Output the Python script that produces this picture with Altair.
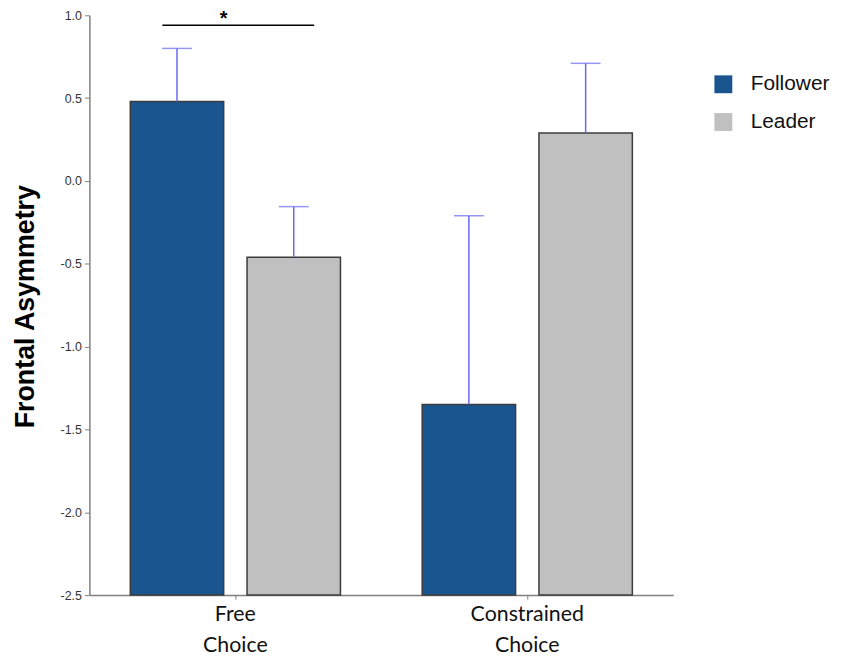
import altair as alt
import pandas as pd

# ---- data ----
cond_order = ["Free Choice", "Constrained Choice"]
role_order = ["Follower", "Leader"]
conditions = ["Free Choice", "Free Choice", "Constrained Choice", "Constrained Choice"]
roles = ["Follower", "Leader", "Follower", "Leader"]
means = [0.48, -0.46, -1.35, 0.29]
upper = [0.80, -0.155, -0.21, 0.71]

# significance annotation (x in band units: 0..2 across the two conditions)
sig_x = [0.25]
sig_x2 = [0.77]
sig_y = [0.94]
star_x = [0.46]
star_y = [0.975]

BAR_COLORS = ["#1a5590", "#c0c0c0"]
EB_COLOR = "#6a6af0"
YTITLE = "Frontal Asymmetry"

df = pd.DataFrame({"condition": conditions, "role": roles, "mean": means, "upper": upper})
sig_df = pd.DataFrame({"x": sig_x, "x2": sig_x2, "y": sig_y})
star_df = pd.DataFrame({"x": star_x, "y": star_y})

yscale = alt.Scale(domain=[-2.5, 1.0], nice=False, zero=False)

x_axis = alt.Axis(
    title=None,
    labelAngle=0,
    labelExpr="split(datum.label, ' ')",
    labelFont="Lato",
    labelFontSize=21.5,
    labelColor="#111111",
    labelLineHeight=31,
    labelPadding=5,
    tickSize=4,
    tickColor="#808080",
    domainColor="#808080",
    domainWidth=1.5,
)
x_enc = alt.X(
    "condition:N",
    sort=cond_order,
    scale=alt.Scale(paddingInner=0, paddingOuter=0),
    axis=x_axis,
    title=None,
)
xo_enc = alt.XOffset("role:N", sort=role_order, scale=alt.Scale(paddingInner=0.2, paddingOuter=0.35))

y_axis = alt.Axis(
    values=[1.0, 0.5, 0.0, -0.5, -1.0, -1.5, -2.0, -2.5],
    labelExpr="datum.value < 0 ? '-' + format(-datum.value, '.1f') : format(datum.value, '.1f')",
    labelFont="Liberation Sans",
    labelFontSize=12.5,
    labelColor="#333333",
    labelPadding=3,
    tickSize=5,
    tickColor="#808080",
    domainColor="#808080",
    domainWidth=1.5,
    titleFont="Liberation Sans",
    titleFontSize=27,
    titleFontWeight="bold",
    titleColor="black",
    titleX=-64,
    titleY=293,
    titleAngle=-90,
    titleAlign="center",
    titleBaseline="middle",
)
y_enc = alt.Y("mean:Q", scale=yscale, title=YTITLE, axis=y_axis)

bars = alt.Chart(df).mark_bar(stroke="#3c3c3c", strokeWidth=1.5).encode(
    x=x_enc,
    xOffset=xo_enc,
    y=y_enc,
    y2=alt.datum(-2.5),
    color=alt.Color(
        "role:N",
        sort=role_order,
        scale=alt.Scale(domain=role_order, range=BAR_COLORS),
        legend=alt.Legend(
            title=None,
            orient="none",
            legendX=628,
            legendY=59,
            symbolType="square",
            symbolSize=324,
            symbolStrokeWidth=0,
            labelFont="Liberation Sans",
            labelFontSize=21,
            labelColor="#111111",
            labelOffset=17,
            rowPadding=16,
            padding=0,
        ),
    ),
)

rules = alt.Chart(df).mark_rule(color=EB_COLOR, strokeWidth=1.5).encode(
    x=x_enc,
    xOffset=xo_enc,
    y=alt.Y("mean:Q", scale=yscale, title=YTITLE, axis=y_axis),
    y2="upper:Q",
)

caps = alt.Chart(df).mark_tick(color=EB_COLOR, thickness=1.5, size=30).encode(
    x=x_enc,
    xOffset=xo_enc,
    y=alt.Y("upper:Q", scale=yscale, title=YTITLE, axis=y_axis),
)

ann_x = alt.Scale(domain=[0, 2], nice=False, zero=False)
sig = alt.Chart(sig_df).mark_rule(color="black", strokeWidth=1.5).encode(
    x=alt.X("x:Q", scale=ann_x, axis=None),
    x2="x2:Q",
    y=alt.Y("y:Q", scale=yscale, title=YTITLE, axis=y_axis),
)
star = alt.Chart(star_df).mark_text(text="*", fontSize=20, fontWeight="bold", font="Liberation Sans", baseline="middle").encode(
    x=alt.X("x:Q", scale=ann_x, axis=None),
    y=alt.Y("y:Q", scale=yscale, title=YTITLE, axis=y_axis),
)

chart = (
    alt.layer(alt.layer(bars, rules, caps), sig, star)
    .resolve_scale(x="independent")
    .properties(
        width=588,
        height=584,
        padding={"left": 82, "top": 5, "right": 170, "bottom": 60},
        autosize=alt.AutoSizeParams(type="none"),
    )
    .configure_view(stroke=None)
    .configure_axis(grid=False)
)

chart.save("out.html", embed_options={"renderer": "svg", "actions": False})
